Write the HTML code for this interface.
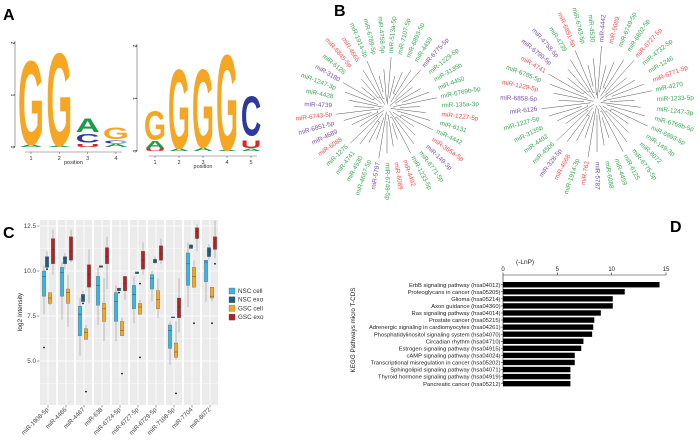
<!DOCTYPE html>
<html><head><meta charset="utf-8"><style>
body{margin:0;background:#fff;}
svg{display:block;font-family:"Liberation Sans",Arial,sans-serif;}
</style></head><body>
<svg id="fig" width="700" height="442" viewBox="0 0 700 442">
<text x="3" y="20" font-size="16" font-weight="bold">A</text>
<text x="334" y="16" font-size="16" font-weight="bold">B</text>
<text x="3" y="238" font-size="16" font-weight="bold">C</text>
<text x="670" y="232" font-size="16" font-weight="bold">D</text>
<g id="pa"></g>
<g id="pb"></g>
<g id="pc"></g>
<g id="pd"></g>
</svg>
<script>
const NS="http://www.w3.org/2000/svg";
function mk(p,t,a,txt){const e=document.createElementNS(NS,t);for(const k in a)e.setAttribute(k,a[k]);if(txt!==undefined)e.textContent=txt;p.appendChild(e);return e;}

// ===== Panel A data =====
const logo1 = [[["A",0,0.05],["G",0.05,1.75]],[["A",0,0.03],["G",0.03,1.92]],[["U",0,0.07],["C",0.09,0.26],["A",0.29,0.56]],[["A",0,0.06],["C",0.07,0.14],["G",0.15,0.38]]];
const logo2 = [[["U",0,0.05],["A",0.05,0.2],["G",0.22,0.8]],[["A",0,0.05],["G",0.05,1.65]],[["A",0,0.07],["G",0.07,1.65]],[["A",0,0.02],["G",0.02,1.95]],[["A",0,0.05],["U",0.06,0.22],["C",0.3,1.1]]];
const baseCol={G:"#f5a623",A:"#1f9a4a",C:"#2b3a9b",U:"#d9262b"};
const pa=document.getElementById('pa');
function drawLogo(data,ax,y0,ppb,x1,step,w){
  const g=mk(pa,'g',{});
  
  
  mk(g,'line',{x1:ax,y1:y0-2*ppb-2,x2:ax,y2:y0,stroke:'#666','stroke-width':0.6});
  [0,1,2].forEach(v=>{mk(g,'line',{x1:ax-2,y1:y0-v*ppb,x2:ax,y2:y0-v*ppb,stroke:'#666','stroke-width':0.6});
    mk(g,'text',{x:ax-4,y:y0-v*ppb,'font-size':5,transform:`rotate(90 ${ax-4} ${y0-v*ppb})`,'text-anchor':'middle',fill:'#333'},v);});
  mk(g,'line',{x1:x1-6,y1:y0+5,x2:x1+(data.length-1)*step+6,y2:y0+5,stroke:'#666','stroke-width':0.6});
  data.forEach((col,i)=>{const cx=x1+i*step;
    mk(g,'line',{x1:cx,y1:y0+5,x2:cx,y2:y0+7,stroke:'#666','stroke-width':0.6});
    mk(g,'text',{x:cx,y:y0+13,'font-size':5.5,'text-anchor':'middle',fill:'#333'},i+1);
    col.forEach(([b,lo,hi])=>{const h=(hi-lo)*ppb;if(h<0.3)return;
      const yb=y0-lo*ppb;const sy=h/7.4,sx=w/7.8;
      const t=mk(g,'text',{x:0,y:0,'font-size':10,'font-weight':'bold',fill:baseCol[b],'text-anchor':'middle',transform:`translate(${cx} ${yb}) scale(${sx} ${sy})`},b);
      
      
    });});
  mk(g,'text',{x:x1+(data.length-1)*step/2,y:y0+17,'font-size':5.5,'text-anchor':'middle',fill:'#333'},'position');
}
drawLogo(logo1,15,147,52,31,28.3,26);
drawLogo(logo2,137,151,52.5,155,24,22);

// ===== Panel B data =====
const leftNames=["miR-513a-5p","miR-7107-5p","miR-6893-5p","miR-4459","miR-6775-5p","miR-1229-5p","miR-3135b","miR-4450","miR-6769b-5p","miR-135a-3p","miR-1227-5p","miR-6131","miR-4442","miR-365a-5p","miR-149-3p","miR-6771-5p","miR-1233-5p","miR-4492","miR-6089","miR-6749-5p","miR-5787","miR-4667-5p","miR-4530","miR-4741","miR-1275","miR-6088","miR-4689","miR-6851-5p","miR-6743-5p","miR-4739","miR-4428","miR-1247-3p","miR-3180","miR-6126","miR-6845-5p","miR-4665","miR-1914-3p","miR-6789-5p","miR-4758-5p"];
const leftCols="ggggpgggggrggrpggrrgpggggrpprpggpgrrggg";
const rightNames=["miR-4442","miR-6089","miR-6749-5p","miR-6802-5p","miR-6727-5p","miR-4732-5p","miR-1246","miR-6771-5p","miR-4270","miR-1233-5p","miR-1247-3p","miR-6769b-5p","miR-6893-5p","miR-149-3p","miR-8072","miR-6775-5p","miR-6125","miR-4459","miR-6088","miR-5787","miR-762","miR-1914-3p","miR-4668","miR-328-5p","miR-4506","miR-4492","miR-3135b","miR-1227-5p","miR-6126","miR-6858-5p","miR-1229-5p","miR-6785-5p","miR-4741","miR-6799-5p","miR-4758-5p","miR-4739","miR-6851-5p","miR-6743-5p","miR-4530"];
const rightCols="prggrggrggggggggggg"+"prgrpgggg"+"pprgrppgrgg";
const txtCol={g:"#3aa655",r:"#f0504f",p:"#7b4fa8"};
const pb=document.getElementById('pb');
function drawTree(names,cols,cx,cy,r0){
  const g=mk(pb,'g',{});
  
  
  const n=names.length;
  names.forEach((nm,i)=>{
    const ang=-90+(i+0.5)*360/n;const a=ang*Math.PI/180;
    const ri=4+((i*7)%5)*3;
    const rr=r0-4-((i*3)%4)*6;
    mk(g,'line',{x1:cx+ri*Math.cos(a),y1:cy+ri*Math.sin(a),x2:cx+rr*Math.cos(a),y2:cy+rr*Math.sin(a),stroke:'#555','stroke-width':0.5});
    const a2=(ang+360/n)*Math.PI/180;
    if(i%2==0)mk(g,'path',{d:`M${cx+ri*Math.cos(a)} ${cy+ri*Math.sin(a)} L${cx+ri*Math.cos(a2)} ${cy+ri*Math.sin(a2)}`,stroke:'#555','stroke-width':0.5,fill:'none'});
    const tx=cx+r0*Math.cos(a),ty=cy+r0*Math.sin(a);
    const flip=Math.cos(a)<-0.01;
    const t=mk(g,'text',{x:tx,y:ty,'font-size':6.4,fill:txtCol[cols[i]||'g'],'dominant-baseline':'central','text-anchor':flip?'end':'start',transform:`rotate(${flip?ang+180:ang} ${tx} ${ty})`},nm);
    
    
  });
}
drawTree(leftNames,leftCols,387,108,55);
drawTree(rightNames,rightCols,597,102,60);

// ===== Panel C data =====
const mirnas=["miR-1908-5p","miR-4466","miR-4467","miR-638","miR-6724-5p","miR-6727-5p","miR-6729-5p","miR-7108-5p","miR-7704","miR-8072"];
const groups=["NSC cell","NSC exo","GSC cell","GSC exo"];
const groupColors=["#3ab4e6","#1f5f80","#f5a623","#b22222"];
const nscCell=[[7.6,8.6,9.7,10.0,10.3],[7.3,8.6,9.9,10.2,10.5],[5.3,6.4,7.6,8.05,8.5],[7.0,8.1,9.2,9.7,10.2],[6.1,7.2,8.3,8.8,9.2],[7.1,7.9,8.7,9.2,9.7],[8.3,9.0,9.6,9.8,10.0],[4.8,5.7,6.7,7.0,7.2],[8.0,9.2,10.4,11.0,11.6],[8.3,9.4,10.5,10.6,10.6]];
const nscExo=[[10.1,10.2,10.7,10.8,11.1],[10.1,10.4,10.7,10.8,11.0],[8.3,8.3,8.6,8.7,8.9],[10.2,10.2,10.25,10.3,10.3],[8.9,8.9,9.0,9.05,9.05],[9.85,9.85,9.9,9.95,9.95],[10.4,10.45,10.55,10.65,10.8],[7.4,7.4,7.42,7.45,7.45],[11.2,11.25,11.35,11.45,11.5],[10.6,10.8,11.1,11.3,11.5]];
const gscCell=[[8.1,8.2,8.5,8.8,8.8],[6.9,8.2,8.8,9.0,9.8],[6.2,6.2,6.6,6.8,7.0],[6.1,7.2,7.9,8.2,9.6],[6.4,6.4,6.7,7.2,7.4],[7.6,7.6,8.0,8.2,8.4],[7.4,7.9,8.4,8.9,9.6],[5.1,5.2,5.5,6.0,7.2],[9.1,9.1,9.7,10.2,10.6],[8.3,8.5,8.6,9.1,9.1]];
const gscExo=[[9.8,10.4,11.2,11.8,12.3],[10.5,10.6,11.1,11.9,12.3],[8.2,9.1,9.8,10.35,11.2],[9.0,10.4,10.8,11.3,11.9],[8.4,8.9,9.3,9.7,9.7],[9.8,10.1,10.6,11.1,11.6],[10.4,10.6,11.0,11.4,11.8],[6.6,7.4,8.0,8.5,9.6],[11.1,11.8,12.2,12.4,12.6],[10.7,11.2,11.4,11.9,12.8]];
const outNscCell=[[5.75],[],[],[],[],[],[],[],[],[]];
const outNscExo=[[10.1],[],[8.2],[],[8.8],[],[],[],[],[]];
const outGscCell=[[],[],[3.3],[],[4.3],[9.3,5.2],[],[3.2],[7.1],[7.1]];
const outGscExo=[[],[],[],[],[],[],[],[],[],[10.4]];
const yTicks=[12.5,10.0,7.5,5.0];
const pc=document.getElementById('pc');
const cX0=40,cY0=220,cY1=405;
const yS=v=>271-(v-10)*18;
const facetX=i=>cX0+i*18;
mk(pc,'text',{x:22,y:312,'font-size':6.5,fill:'#222','text-anchor':'middle',transform:'rotate(-90 22 312)'},'log2 Intensity');
yTicks.forEach(t=>{mk(pc,'text',{x:36,y:yS(t)+2,'font-size':6.3,fill:'#444','text-anchor':'end'},t.toFixed(1));
  mk(pc,'line',{x1:37,y1:yS(t),x2:39.5,y2:yS(t),stroke:'#444','stroke-width':0.5});});
const series=[nscCell,nscExo,gscCell,gscExo],outs=[outNscCell,outNscExo,outGscCell,outGscExo];
mirnas.forEach((m,i)=>{
  const fx=facetX(i);
  const f=mk(pc,'g',{});
  
  
  mk(f,'rect',{x:fx,y:cY0,width:16,height:cY1-cY0,fill:'#ebebeb'});
  [2.5,5,7.5,10,12.5].forEach(v=>mk(f,'line',{x1:fx,x2:fx+16,y1:yS(v),y2:yS(v),stroke:'#fff','stroke-width':0.8}));
  [3.75,6.25,8.75,11.25].forEach(v=>mk(f,'line',{x1:fx,x2:fx+16,y1:yS(v),y2:yS(v),stroke:'#fff','stroke-width':0.4}));
  mk(f,'line',{x1:fx+8,x2:fx+8,y1:cY0,y2:cY1,stroke:'#fff','stroke-width':0.8});
  series.forEach((s,k)=>{const d=s[i];const cx=fx+4+k*3;
    mk(f,'line',{x1:cx,x2:cx,y1:yS(d[4]),y2:yS(d[0]),stroke:'#999','stroke-width':0.6});
    const b=mk(f,'rect',{x:cx-1.7,y:yS(d[3]),width:3.4,height:Math.max(1,yS(d[1])-yS(d[3])),fill:groupColors[k],stroke:'#555','stroke-width':0.3});
    
    
    mk(f,'line',{x1:cx-1.7,x2:cx+1.7,y1:yS(d[2]),y2:yS(d[2]),stroke:'#333','stroke-width':0.4});
    outs[k][i].forEach(o=>mk(f,'circle',{cx:cx,cy:yS(o),r:0.9,fill:'#111'}));
  });
  mk(pc,'line',{x1:fx+8,x2:fx+8,y1:cY1,y2:cY1+2.5,stroke:'#444','stroke-width':0.5});
  const t=mk(pc,'text',{x:fx+9,y:cY1+5,'font-size':6.2,fill:'#444','text-anchor':'end',transform:`rotate(-45 ${fx+9} ${cY1+5})`},m);
  
  
});
groups.forEach((gname,k)=>{const y=288+k*8.7;
  const le=mk(pc,'g',{});
  
  
  mk(le,'rect',{x:229,y:y,width:6,height:6,fill:groupColors[k],stroke:'#555','stroke-width':0.3});
  mk(le,'text',{x:238,y:y+5,'font-size':6.3,fill:'#333'},gname);
});

// ===== Panel D data =====
const pathways=["ErbB signaling pathway (hsa04012)","Proteoglycans in cancer (hsa05205)","Glioma (hsa05214)","Axon guidance (hsa04360)","Ras signaling pathway (hsa04014)","Prostate cancer (hsa05215)","Adrenergic signaling in cardiomyocytes (hsa04261)","Phosphatidylinositol signaling system (hsa04070)","Circadian rhythm (hsa04710)","Estrogen signaling pathway (hsa04915)","cAMP signaling pathway (hsa04024)","Transcriptional misregulation in cancer (hsa05202)","Sphingolipid signaling pathway (hsa04071)","Thyroid hormone signaling pathway (hsa04919)","Pancreatic cancer (hsa05212)"];
const lnP=[14.4,11.2,10.1,10.1,9.0,8.4,8.3,8.2,7.4,7.2,6.6,6.6,6.2,6.2,6.2];
const dTicks=[0,5,10,15];
const pd=document.getElementById('pd');
const dx=v=>503+v*10.87;
mk(pd,'text',{x:dx(1.2),y:264,'font-size':6.5,fill:'#222'},'(-LnP)');
mk(pd,'line',{x1:dx(0),x2:dx(15),y1:275,y2:275,stroke:'#222','stroke-width':0.6});
mk(pd,'line',{x1:dx(0),x2:dx(0),y1:275,y2:384,stroke:'#222','stroke-width':0.6});
dTicks.forEach(t=>{mk(pd,'line',{x1:dx(t),x2:dx(t),y1:272.5,y2:275,stroke:'#222','stroke-width':0.6});
  mk(pd,'text',{x:dx(t),y:271,'font-size':6,fill:'#222','text-anchor':'middle'},t);});
mk(pd,'text',{x:355,y:330,'font-size':6.3,fill:'#222','text-anchor':'middle',transform:'rotate(-90 355 330)'},'KEGG Pathways micro T-CDS');
pathways.forEach((p,i)=>{const y=282+i*7.07;
  const b=mk(pd,'rect',{x:dx(0),y:y,width:dx(lnP[i])-dx(0),height:5.4,fill:'#000'});
  
  
  mk(pd,'line',{x1:dx(0)-2,x2:dx(0),y1:y+2.7,y2:y+2.7,stroke:'#222','stroke-width':0.5});
  const t=mk(pd,'text',{x:dx(0)-2.5,y:y+4.8,'font-size':5.8,fill:'#222','text-anchor':'end'},p);
  
  
});
</script>
</body></html>
